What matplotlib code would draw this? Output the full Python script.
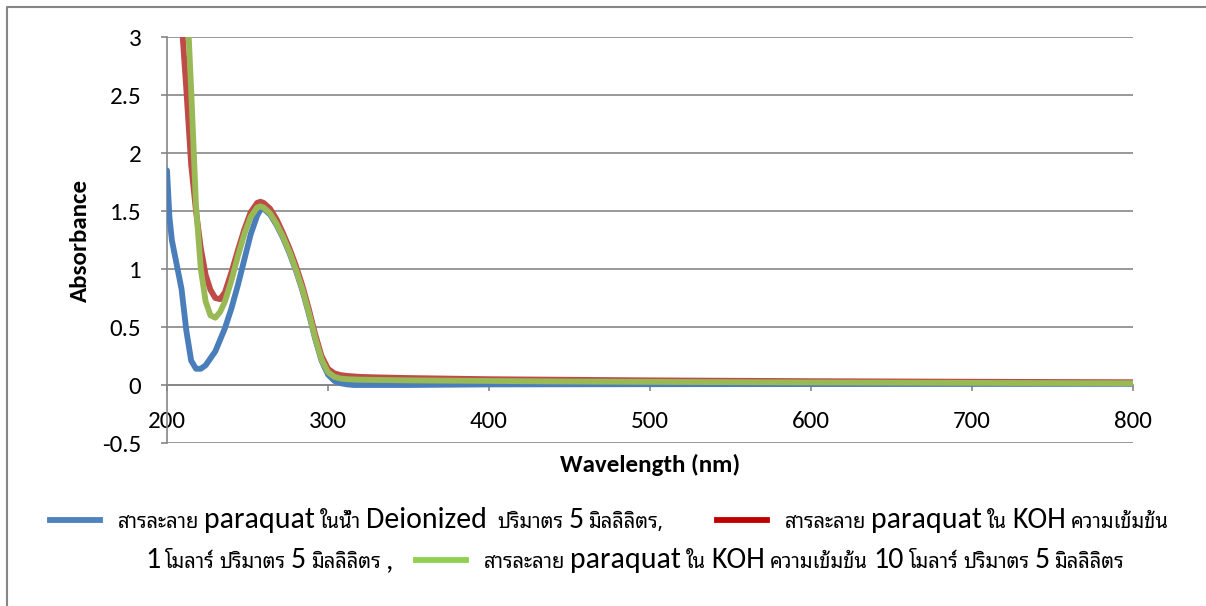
import matplotlib
matplotlib.use("Agg")
import matplotlib.pyplot as plt
from matplotlib.lines import Line2D

# wavelength (nm)
wl = [200, 201.5, 203, 206, 209, 212, 215, 218, 221, 224, 227, 230, 233, 236, 240, 244, 248,
      252, 256, 258, 260, 264, 268, 272, 276, 280, 284, 288, 292, 296, 300, 304, 308,
      312, 316, 320, 330, 350, 400, 450, 500, 600, 700, 800]

# สารละลาย paraquat ในน้ำ Deionized
abs_water = [1.85, 1.45, 1.25, 1.04, 0.83, 0.47, 0.21, 0.14, 0.14, 0.17, 0.23, 0.29, 0.39, 0.49, 0.66, 0.86, 1.08,
             1.30, 1.46, 1.51, 1.52, 1.47, 1.38, 1.27, 1.14, 0.99, 0.82, 0.62, 0.40, 0.21, 0.09, 0.035, 0.015,
             0.005, 0.0, 0.0, 0.0, 0.0, 0.005, 0.006, 0.007, 0.008, 0.009, 0.01]
# KOH 1 M
abs_koh1 = [4.8, 4.55, 4.3, 3.7, 3.15, 2.55, 1.9, 1.5, 1.18, 0.95, 0.82, 0.75, 0.74, 0.80, 0.97, 1.16, 1.34,
            1.49, 1.57, 1.58, 1.57, 1.52, 1.43, 1.31, 1.18, 1.03, 0.86, 0.66, 0.44, 0.25, 0.14, 0.10, 0.085,
            0.078, 0.074, 0.07, 0.066, 0.06, 0.05, 0.045, 0.04, 0.033, 0.028, 0.024]
# KOH 10 M
abs_koh10 = [5.0, 4.9, 4.8, 4.4, 4.0, 3.45, 2.55, 1.55, 1.0, 0.72, 0.60, 0.58, 0.63, 0.72, 0.90, 1.11, 1.30,
             1.45, 1.53, 1.54, 1.53, 1.48, 1.39, 1.28, 1.15, 1.00, 0.83, 0.63, 0.41, 0.22, 0.11, 0.07, 0.055,
             0.05, 0.048, 0.046, 0.044, 0.04, 0.035, 0.03, 0.027, 0.022, 0.018, 0.015]

labels = ["สารละลาย paraquat ในน้ำ Deionized  ปริมาตร 5 มิลลิลิตร,",
          "สารละลาย paraquat ใน KOH ความเข้มข้น\n1 โมลาร์ ปริมาตร 5 มิลลิลิตร ,",
          "สารละลาย paraquat ใน KOH ความเข้มข้น 10 โมลาร์ ปริมาตร 5 มิลลิลิตร"]
line_colors = ["#4A7EBB", "#BE4B48", "#98B954"]
key_colors = ["#4F81BD", "#C00000", "#92D050"]

latin = ["Carlito", "Liberation Sans", "DejaVu Sans"]
thai = ["Noto Sans Thai Looped", "Noto Sans Thai", "DejaVu Sans"]
grey = "#868686"

W, H = 1206, 606
fig = plt.figure(figsize=(W / 100, H / 100), dpi=100)
ax = fig.add_axes([167 / W, 1 - 443 / H, 966 / W, 406 / H])

for y, c in zip([abs_water, abs_koh1, abs_koh10], line_colors):
    ax.plot(wl, y, color=c, lw=4.2, zorder=3, solid_capstyle="round", solid_joinstyle="round")

ax.set_xlim(200, 800)
ax.set_ylim(-0.5, 3)
ax.set_xticks([200, 300, 400, 500, 600, 700, 800])
ax.set_yticks([-0.5, 0, 0.5, 1, 1.5, 2, 2.5, 3])
ax.set_yticklabels(["-0.5", "0", "0.5", "1", "1.5", "2", "2.5", "3"])
ax.yaxis.grid(True, color=grey, lw=1.2)
ax.set_axisbelow(True)
ax.spines["top"].set_visible(False)
ax.spines["right"].set_visible(False)
ax.spines["bottom"].set_position(("data", 0))
for s in ["left", "bottom"]:
    ax.spines[s].set_color(grey)
    ax.spines[s].set_linewidth(1.2)
ax.tick_params(axis="both", direction="out", length=4.5, width=1.2, color=grey)
ax.tick_params(axis="x", pad=14)
ax.tick_params(axis="y", pad=14)
for t in ax.get_xticklabels() + ax.get_yticklabels():
    t.set_family(latin)
    t.set_fontsize(18)

ax.set_xlabel("Wavelength (nm)", family=latin, fontsize=18, fontweight="bold")
ax.xaxis.set_label_coords(0.5, -0.055)
ax.xaxis.label.set_va("center")
ax.set_ylabel("Absorbance", family=latin, fontsize=18, fontweight="bold")
ax.yaxis.set_label_coords(-0.09, 0.5)
ax.yaxis.label.set_va("center")

# chart frame (top and left edges)
fig.add_artist(Line2D([7 / W, 7 / W, 1], [0, 1 - 7 / H, 1 - 7 / H], color=grey, lw=1.5))

# legend drawn piece by piece (Latin and Thai in different fonts)
renderer = fig.canvas.get_renderer()
key_x = [50, 717, None]   # None: follow on after the previous entry
key_row = [0, 0, 1]
row_base = [528, 568]
wrap_x = 145
space = 5


def is_thai(s):
    return any("\u0e00" <= ch <= "\u0e7f" for ch in s)


def put(x, yb, word):
    if is_thai(word):
        t = fig.text(x / W, 1 - yb / H, word, family=thai, fontsize=14.5, va="baseline")
    else:
        t = fig.text(x / W, 1 - yb / H, word, family=latin, fontsize=21.5, va="baseline")
    return t.get_window_extent(renderer).width


x = 0
for lab, kc, kx, row in zip(labels, key_colors, key_x, key_row):
    if kx is None:
        kx = x + 18
    yb = row_base[row]
    fig.add_artist(Line2D([kx / W, (kx + 50) / W], [1 - (yb - 8) / H] * 2, color=kc, lw=4.2))
    x = kx + 68
    for li, part in enumerate(lab.split("\n")):
        if li > 0:
            row += 1
            yb = row_base[row]
            x = wrap_x
        for w in part.split(" "):
            if w == "":
                x += space
                continue
            x += put(x, yb, w) + space

fig.savefig("out.png")
